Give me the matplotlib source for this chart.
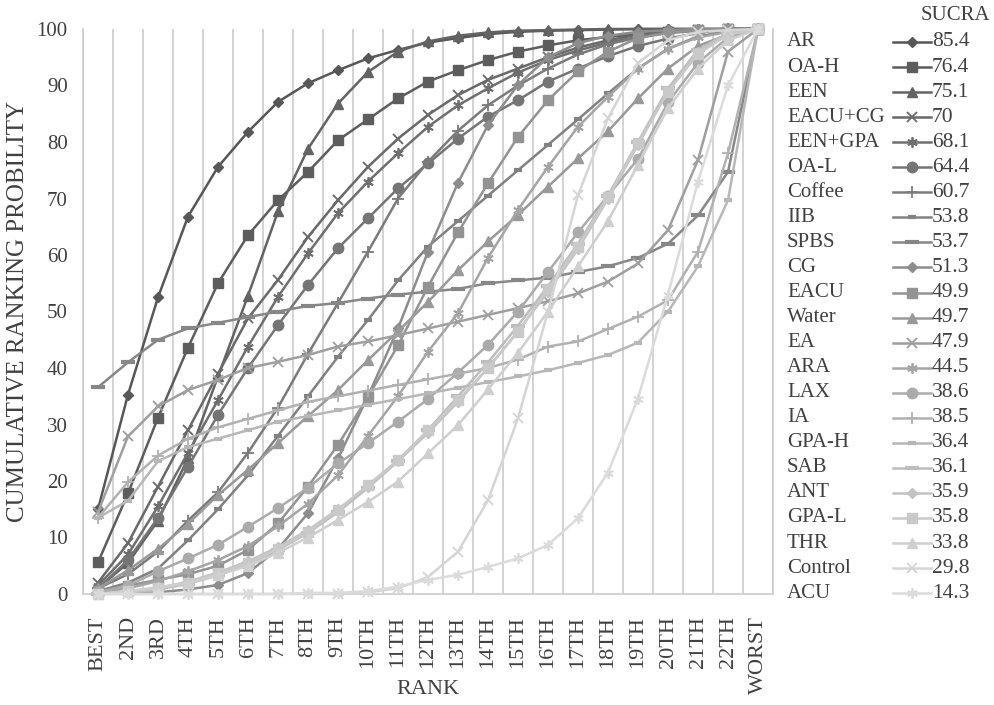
import numpy as np
import matplotlib
matplotlib.use("Agg")
import matplotlib.pyplot as plt
from matplotlib.lines import Line2D

plt.rcParams['font.family'] = ['Liberation Serif', 'DejaVu Serif']

# ranks on the x axis
ranks = ["BEST", "2ND", "3RD", "4TH", "5TH", "6TH", "7TH", "8TH", "9TH", "10TH",
         "11TH", "12TH", "13TH", "14TH", "15TH", "16TH", "17TH", "18TH", "19TH",
         "20TH", "21TH", "22TH", "WORST"]

# treatments (legend order) and their SUCRA
names = ["AR", "OA-H", "EEN", "EACU+CG", "EEN+GPA", "OA-L", "Coffee", "IIB", "SPBS",
         "CG", "EACU", "Water", "EA", "ARA", "LAX", "IA", "GPA-H", "SAB", "ANT",
         "GPA-L", "THR", "Control", "ACU"]
sucra = ["85.4", "76.4", "75.1", "70", "68.1", "64.4", "60.7", "53.8", "53.7", "51.3",
         "49.9", "49.7", "47.9", "44.5", "38.6", "38.5", "36.4", "36.1", "35.9",
         "35.8", "33.8", "29.8", "14.3"]

# cumulative ranking probability (%)
ar = [15, 35.3, 52.5, 66.8, 75.6, 81.8, 87.1, 90.4, 92.7, 94.8, 96.3, 97.6, 98.4, 99.1, 99.5, 99.7, 99.8, 99.9, 100, 100, 100, 100, 100]
oa_h = [5.6, 17.8, 31.2, 43.6, 55, 63.5, 69.7, 74.7, 80.3, 84, 87.7, 90.7, 92.7, 94.5, 96, 97.1, 98, 98.6, 99.1, 99.5, 99.8, 100, 100]
een = [1, 5.5, 13, 24, 38.5, 52.8, 67.7, 78.8, 86.8, 92.4, 96, 97.8, 98.8, 99.4, 99.7, 99.8, 99.9, 100, 100, 100, 100, 100, 100]
eacu_cg = [2, 9, 19, 29, 39, 48.8, 55.6, 63.2, 69.7, 75.6, 80.6, 84.8, 88.3, 91, 93, 95, 96.7, 98, 99, 99.5, 99.8, 100, 100]
een_gpa = [1.5, 7, 15.5, 25, 34.3, 43.8, 52.6, 60.3, 67.4, 73, 78, 82.7, 86.5, 89.5, 92.3, 94.5, 96.2, 97.6, 98.6, 99.3, 99.7, 100, 100]
oa_l = [1, 6, 13.5, 22.5, 31.7, 40, 47.6, 54.7, 61.2, 66.5, 71.8, 76.2, 80.6, 84.5, 87.4, 90.7, 93, 95.2, 97, 98.3, 99.3, 100, 100]
coffee = [1, 3.5, 7.5, 13, 18, 25, 33, 42.5, 51.5, 60.6, 70, 76.5, 82, 86.5, 90, 93, 95.5, 97.3, 98.5, 99.5, 99.8, 100, 100]
iib = [0.5, 2, 4.5, 9.5, 15, 21, 28, 35, 42, 48.5, 55.5, 61.5, 66, 70.5, 75, 79.5, 84, 88.6, 93, 96.5, 98.7, 99.6, 100]
spbs = [36.6, 41, 45, 47, 48, 49, 50, 51, 51.5, 52.3, 53, 53.5, 54, 55, 55.5, 56, 57, 58, 59.5, 62, 67, 74.7, 100]
cg = [0, 0.1, 0.3, 0.8, 1.6, 3.7, 8, 14.3, 24, 35, 47, 60.6, 72.8, 83, 90.1, 95, 97.5, 98.8, 99.5, 99.8, 100, 100, 100]
eacu = [0.5, 1.5, 2.5, 3.5, 5, 7.8, 12.5, 19, 26.4, 34.9, 44, 54.4, 64, 72.7, 80.9, 87.4, 92.5, 96, 98.4, 99.3, 99.8, 100, 100]
water = [1, 4.2, 8, 12.4, 17.5, 22, 26.7, 31.5, 36.1, 41.4, 46.5, 51.7, 57.3, 62.4, 67.1, 72.1, 77.1, 81.9, 87.7, 93, 97, 99, 100]
ea = [14.5, 27.9, 33.2, 36.1, 37.9, 40, 41.1, 42.3, 43.8, 44.7, 45.8, 47, 48.2, 49.4, 50.6, 51.8, 53.2, 55.3, 58.5, 64.4, 76.8, 96, 100]
ara = [0.3, 1, 2.3, 4, 6, 8.5, 12, 16, 21, 28, 35, 42.9, 49.7, 59.5, 68, 75.6, 82.7, 88, 93, 96.5, 98.5, 99.5, 100]
lax = [0.3, 1.5, 4, 6.3, 8.7, 11.9, 15.2, 18.8, 23.1, 26.7, 30.5, 34.5, 39.2, 44.1, 50, 57, 64, 70.5, 77, 87, 94, 98.5, 100]
ia = [13.5, 19.8, 24.5, 27.5, 29.5, 31, 32.5, 34, 35, 36, 37, 38, 39, 40, 41.5, 43.8, 44.7, 46.9, 49.1, 52, 60.6, 78, 100]
gpa_h = [13.5, 16.5, 23.5, 26, 27.5, 29, 30.5, 31.5, 32.5, 33.5, 34.5, 35.5, 36.5, 37.5, 38.5, 39.6, 40.9, 42.3, 44.5, 50, 58, 69.7, 100]
sab = [0, 0.3, 0.8, 1.8, 3.3, 5.3, 7.8, 10.8, 14.5, 18.8, 23.5, 29, 35, 41, 47.5, 54.5, 62, 70.5, 80, 89.5, 96.3, 99.3, 100]
ant = [0, 0.4, 1, 2.2, 3.8, 5.8, 8.3, 11.3, 15, 19, 23.5, 28.5, 34, 40, 46.5, 53.5, 61, 70, 79.5, 89, 96, 99.3, 100]
gpa_l = [0, 0.5, 1, 2, 3.7, 5.5, 8, 11, 14.9, 19.3, 23.7, 29, 34.3, 40, 46.4, 54, 61.5, 70.3, 79.8, 88.9, 95.6, 99, 100]
thr = [0, 0.5, 1.2, 2, 3.3, 5, 7.3, 10, 13.1, 16.3, 19.9, 24.9, 29.9, 36.2, 42.7, 50, 58, 66, 76, 86, 93, 98, 100]
control = [0, 0, 0, 0, 0, 0, 0, 0, 0, 0.3, 1, 3, 7.5, 16.6, 31.1, 50, 70.6, 84.2, 94, 98, 99.5, 99.8, 100]
acu = [0, 0, 0, 0, 0, 0, 0, 0.2, 0.2, 0.5, 1.3, 2.5, 3.4, 4.8, 6.3, 8.7, 13.4, 21.5, 34.6, 53, 73, 90, 100]

values = [ar, oa_h, een, eacu_cg, een_gpa, oa_l, coffee, iib, spbs, cg, eacu, water,
          ea, ara, lax, ia, gpa_h, sab, ant, gpa_l, thr, control, acu]

# excel-like marker cycle: diamond, square, triangle, x, star, circle, plus, dash, long dash
marker_cycle = [('D', 5.5, 1.0), ('s', 6.5, 1.0), ('^', 6.5, 1.0), ('x', 6.5, 1.3),
                ((6, 2, 0), 7.5, 1.3), ('o', 7.5, 1.0), ('+', 8, 1.3),
                ('_', 6, 3.0), ('_', 10, 3.0)]
greys = np.linspace(0.34, 0.86, len(names))
txt = '#404040'

W, H = 994, 705
fig = plt.figure(figsize=(W / 100, H / 100), dpi=100)
ax = fig.add_axes([83 / W, 1 - 594 / H, 690 / W, 565 / H])

x = np.arange(len(ranks))
for i, vals in enumerate(values):
    g = greys[i]
    col = (g, g, g)
    m, ms, mew = marker_cycle[i % len(marker_cycle)]
    ax.plot(x, vals, color=col, lw=1.8, marker=m, ms=ms, mew=mew,
            mfc=col, mec=col, clip_on=False, zorder=3)

ax.set_xlim(-0.5, len(ranks) - 0.5)
ax.set_ylim(0, 100)
ax.set_yticks(np.arange(0, 101, 10))
ax.set_xticks(x)
ax.set_xticklabels(ranks, rotation=90, fontsize=16, color=txt)
ax.set_xticks(np.arange(-0.5, len(ranks), 1), minor=True)
ax.grid(which='minor', axis='x', color='#d0d0d0', lw=1.3)
ax.tick_params(which='both', length=0)
ax.tick_params(axis='x', pad=16)
ax.tick_params(axis='y', pad=11, labelsize=15, labelcolor=txt)
ax.spines['top'].set_visible(False)
for s in ['left', 'right', 'bottom']:
    ax.spines[s].set_color('#d0d0d0')
    ax.spines[s].set_linewidth(1.3)

# axis titles placed where the reference has them
fig.text(428 / W, 1 - 689 / H, "RANK", fontsize=16, color=txt, ha='center', va='center')
fig.text(18 / W, 1 - 311 / H, "CUMULATIVE RANKING PROBILITY", fontsize=18, color=txt,
         rotation=90, ha='center', va='center')

# legend drawn by hand: name | line sample | SUCRA
fig.text(955 / W, 1 - 16 / H, "SUCRA", fontsize=15, color=txt, ha='center', va='center')
for i, name in enumerate(names):
    yy = 1 - (42 + i * 25.05) / H
    g = greys[i]
    col = (g, g, g)
    m, ms, mew = marker_cycle[i % len(marker_cycle)]
    fig.text(787 / W, yy, name, fontsize=15, color=txt, ha='left', va='center')
    fig.add_artist(Line2D([893 / W, 931 / W], [yy, yy], transform=fig.transFigure,
                          color=col, lw=1.8))
    fig.add_artist(Line2D([912 / W], [yy], transform=fig.transFigure, color=col,
                          marker=m, ms=ms, mew=mew, mfc=col, mec=col))
    fig.text(932 / W, yy, sucra[i], fontsize=15.5, color=txt, ha='left', va='center')

fig.savefig("out.png", dpi=100, facecolor='white')
